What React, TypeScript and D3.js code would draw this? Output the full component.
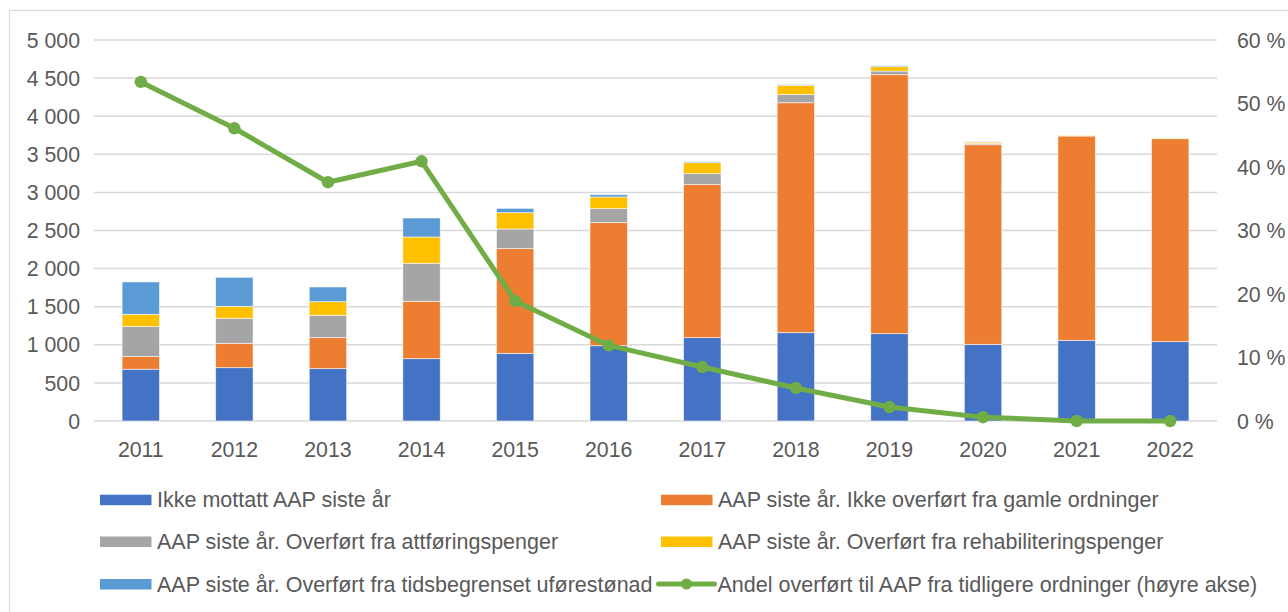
import React from "react";
import * as d3 from "d3";

const years = ["2011","2012","2013","2014","2015","2016","2017","2018","2019","2020","2021","2022"];
const ikkeMottatt = [680, 700, 687, 818, 888, 988, 1094, 1159, 1146, 1006, 1059, 1041];
const ikkeOverfort = [165, 320, 407, 753, 1374, 1615, 2012, 3018, 3399, 2620, 2681, 2664];
const attforing = [395, 328, 293, 498, 258, 184, 140, 109, 48, 18, 5, 3];
const rehab = [160, 157, 179, 346, 214, 153, 144, 119, 57, 17, 8, 5];
const tidsbegrenset = [425, 381, 193, 249, 57, 30, 13, 9, 13, 3, 0, 0];
const andel = [53.4, 46.1, 37.6, 40.9, 18.9, 11.9, 8.5, 5.2, 2.2, 0.6, 0, 0];

const leftTicks = [0, 500, 1000, 1500, 2000, 2500, 3000, 3500, 4000, 4500, 5000];
const rightTicks = [0, 10, 20, 30, 40, 50, 60];

const seriesNames = [
  "Ikke mottatt AAP siste år",
  "AAP siste år. Ikke overført fra gamle ordninger",
  "AAP siste år. Overført fra attføringspenger",
  "AAP siste år. Overført fra rehabiliteringspenger",
  "AAP siste år. Overført fra tidsbegrenset uførestønad",
];
const lineName = "Andel overført til AAP fra tidligere ordninger (høyre akse)";
const colors = ["#4472c4", "#ed7d31", "#a5a5a5", "#ffc000", "#5b9bd5"];
const green = "#70ad47";

const W = 1288, H = 612;
const M = { left: 94, right: 1217, top: 40, bottom: 421 };
const FONT = "Liberation Sans, Arial, sans-serif";
const TXT = "#595959";
const FS = 21.3;
const LFS = 21.5;

export default function App() {
  const x = d3.scaleBand<string>().domain(years).range([M.left, M.right]).paddingInner(0.6).paddingOuter(0.3);
  const y = d3.scaleLinear().domain([0, 5000]).range([M.bottom, M.top]);
  const y2 = d3.scaleLinear().domain([0, 60]).range([M.bottom, M.top]);

  const rows = years.map((yr, i) => ({
    year: yr,
    s0: ikkeMottatt[i], s1: ikkeOverfort[i], s2: attforing[i], s3: rehab[i], s4: tidsbegrenset[i],
  }));
  const stack = d3.stack<any>().keys(["s0", "s1", "s2", "s3", "s4"])(rows);

  const lineGen = d3.line<number>()
    .x((_, i) => (x(years[i]) as number) + x.bandwidth() / 2)
    .y((d) => y2(d));

  const fmt = (v: number) => d3.format(",")(v).replace(/,/g, " ");

  const legendItems = [
    { name: seriesNames[0], color: colors[0], col: 0, row: 0 },
    { name: seriesNames[1], color: colors[1], col: 1, row: 0 },
    { name: seriesNames[2], color: colors[2], col: 0, row: 1 },
    { name: seriesNames[3], color: colors[3], col: 1, row: 1 },
    { name: seriesNames[4], color: colors[4], col: 0, row: 2 },
  ];
  const colX = [100, 661];
  const swW = 51.5;
  const rowY = [499.7, 541.5, 584];

  return (
    <svg width={W} height={H} style={{ position: "absolute", left: 0, top: 0, background: "#fff" }}>
      <rect x={9.5} y={10.5} width={1290} height={620} fill="#fff" stroke="#d9d9d9" strokeWidth={1.2} />
      {leftTicks.map((t) => (
        <line key={t} x1={M.left} x2={M.right} y1={y(t)} y2={y(t)} stroke="#d9d9d9" strokeWidth={1.5} />
      ))}
      {leftTicks.map((t) => (
        <text key={"l" + t} x={80} y={y(t)} dy="0.36em" textAnchor="end" fontFamily={FONT} fontSize={FS} fill={TXT}>
          {fmt(t)}
        </text>
      ))}
      {rightTicks.map((t) => (
        <text key={"r" + t} x={1237} y={y2(t)} dy="0.36em" textAnchor="start" fontFamily={FONT} fontSize={FS} fill={TXT}>
          {t} %
        </text>
      ))}
      {years.map((yr) => (
        <text key={"x" + yr} x={(x(yr) as number) + x.bandwidth() / 2} y={456.5} textAnchor="middle" fontFamily={FONT} fontSize={FS} fill={TXT}>
          {yr}
        </text>
      ))}
      {stack.map((layer, li) => (
        <g key={li} fill={colors[li]}>
          {layer.map((d, i) => {
            const h = y(d[0]) - y(d[1]);
            if (h <= 0) return null;
            return (
              <rect key={i} x={x(years[i])} y={y(d[1])} width={x.bandwidth()} height={h}
                stroke="#ffffff" strokeOpacity={0.7} strokeWidth={0.8} />
            );
          })}
        </g>
      ))}
      <path d={lineGen(andel) || ""} fill="none" stroke={green} strokeWidth={5} strokeLinejoin="round" strokeLinecap="round" />
      {andel.map((v, i) => (
        <circle key={"c" + i} cx={(x(years[i]) as number) + x.bandwidth() / 2} cy={y2(v)} r={6.2} fill={green} />
      ))}
      {legendItems.map((it, k) => (
        <g key={"lg" + k}>
          <rect x={colX[it.col]} y={rowY[it.row] - 5} width={swW} height={10.5} fill={it.color} />
          <text x={colX[it.col] + swW + 5.5} y={rowY[it.row]} dy="0.35em" fontFamily={FONT} fontSize={LFS} fill={TXT}>
            {it.name}
          </text>
        </g>
      ))}
      <g>
        <line x1={658.5} x2={714.5} y1={rowY[2]} y2={rowY[2]} stroke={green} strokeWidth={5} strokeLinecap="round" />
        <circle cx={686.5} cy={rowY[2]} r={5.5} fill={green} />
        <text x={717.5} y={rowY[2]} dy="0.35em" fontFamily={FONT} fontSize={LFS} fill={TXT}>
          {lineName}
        </text>
      </g>
    </svg>
  );
}
